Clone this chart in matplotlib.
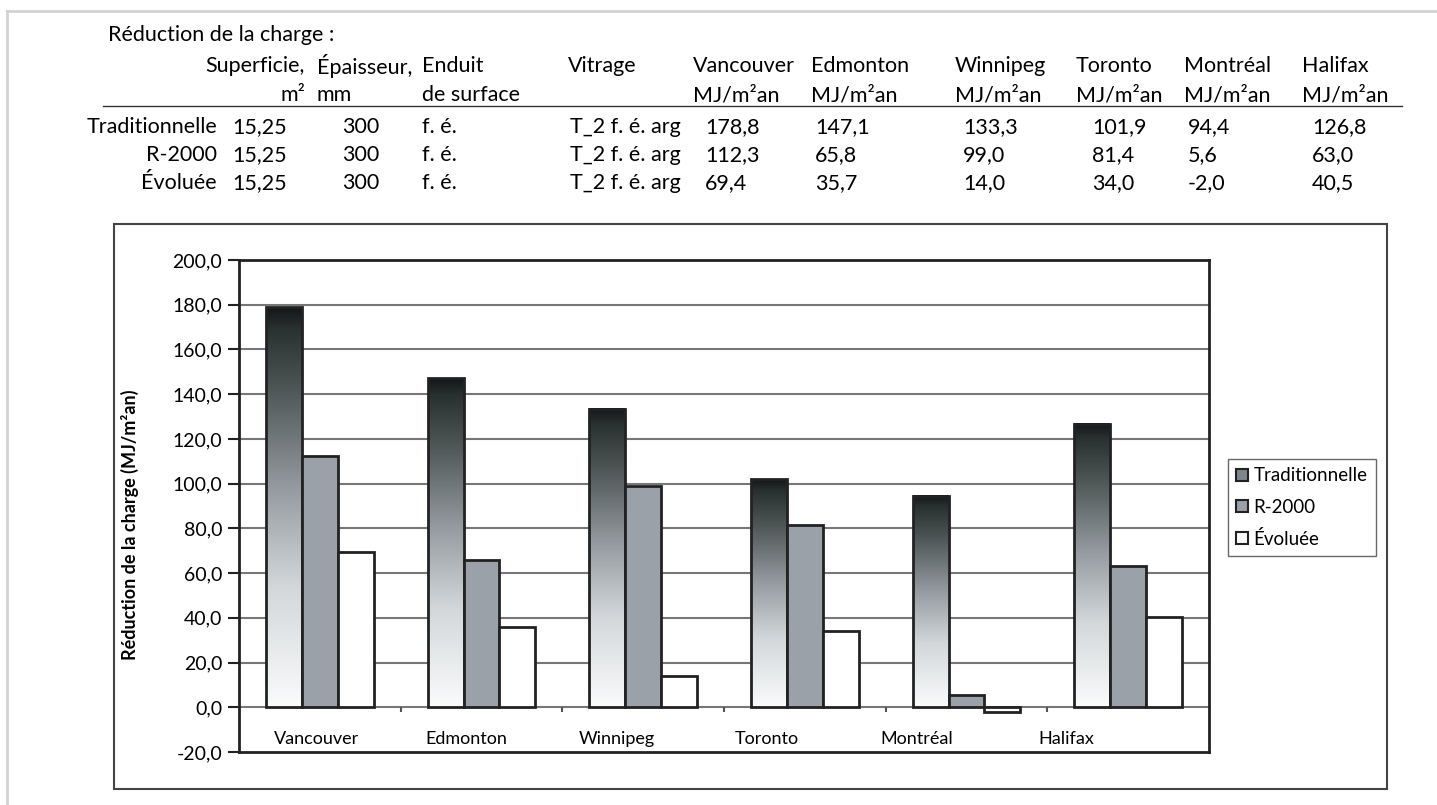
import numpy as np
import matplotlib.pyplot as plt
from matplotlib.patches import Rectangle, Patch
from matplotlib.lines import Line2D
from matplotlib.colors import LinearSegmentedColormap
from matplotlib.ticker import FuncFormatter

plt.rcParams['font.family'] = ['Lato', 'DejaVu Sans']

# data
villes = ['Vancouver', 'Edmonton', 'Winnipeg', 'Toronto', 'Montréal', 'Halifax']
maisons = ['Traditionnelle', 'R-2000', 'Évoluée']
traditionnelle = [178.8, 147.1, 133.3, 101.9, 94.4, 126.8]
r2000 = [112.3, 65.8, 99.0, 81.4, 5.6, 63.0]
evoluee = [69.4, 35.7, 14.0, 34.0, -2.0, 40.5]
superficie = ['15,25', '15,25', '15,25']
epaisseur = ['300', '300', '300']
enduit = ['f. é.', 'f. é.', 'f. é.']
vitrage = ['T_2 f. é. arg', 'T_2 f. é. arg', 'T_2 f. é. arg']

W, H = 1437, 805
fig = plt.figure(figsize=(W / 100, H / 100), dpi=100)


def fx(x):
    return x / W


def fy(y):
    return 1 - y / H


def fmt(v):
    return ('%.1f' % v).replace('.', ',')


# page frame (light grey)
fig.add_artist(Line2D([fx(7), 1], [fy(11), fy(11)], color='#d2d2d2', lw=2))
fig.add_artist(Line2D([fx(7), fx(7)], [fy(11), 0], color='#d2d2d2', lw=2))

# ---- table above the chart ----
fs = 15.5
fig.text(fx(108), fy(35), 'Réduction de la charge :', fontsize=fs, va='center')
y_h1, y_h2, y_ul = 66, 95, 106
rows_y = [127, 155, 183]

fig.text(fx(305), fy(y_h1), 'Superficie,', fontsize=fs, ha='right', va='center')
fig.text(fx(305), fy(y_h2), 'm²', fontsize=fs, ha='right', va='center')
fig.text(fx(317), fy(y_h1), 'Épaisseur,', fontsize=fs, va='center')
fig.text(fx(317), fy(y_h2), 'mm', fontsize=fs, va='center')
fig.text(fx(422), fy(y_h1), 'Enduit', fontsize=fs, va='center')
fig.text(fx(422), fy(y_h2), 'de surface', fontsize=fs, va='center')
fig.text(fx(568), fy(y_h1), 'Vitrage', fontsize=fs, va='center')

col_x = [693, 811, 955, 1076, 1184, 1302]
val_x = [705, 815, 963, 1092, 1188, 1312]
for i, v in enumerate(villes):
    fig.text(fx(col_x[i]), fy(y_h1), v, fontsize=fs, va='center')
    fig.text(fx(col_x[i]), fy(y_h2), 'MJ/m²an', fontsize=fs, va='center')

fig.add_artist(Line2D([fx(103), fx(1402)], [fy(y_ul), fy(y_ul)], color='#333333', lw=1))

series = [traditionnelle, r2000, evoluee]
for j, nom in enumerate(maisons):
    y = fy(rows_y[j])
    fig.text(fx(217), y, nom, fontsize=fs, ha='right', va='center')
    fig.text(fx(232), y, superficie[j], fontsize=fs, va='center')
    fig.text(fx(342), y, epaisseur[j], fontsize=fs, va='center')
    fig.text(fx(422), y, enduit[j], fontsize=fs, va='center')
    fig.text(fx(570), y, vitrage[j], fontsize=fs, va='center')
    for i in range(len(villes)):
        fig.text(fx(val_x[i]), y, fmt(series[j][i]), fontsize=fs, va='center')

# ---- chart frame ----
fig.add_artist(Rectangle((fx(114), fy(789)), fx(1387 - 114), (789 - 224) / H,
                         fill=False, edgecolor='#444444', lw=1.5))

ax = fig.add_axes([fx(239), fy(752), fx(1209 - 239), (752 - 260) / H])
ax.set_facecolor('white')

x = np.arange(len(villes))
bw = 0.222
edge = '#222222'
cmap = LinearSegmentedColormap.from_list('trad', [
    (0.0, '#fafbfb'), (0.3, '#d3d7da'), (0.55, '#949a9f'),
    (0.8, '#4d5555'), (0.95, '#283030'), (1.0, '#141717')])
grad = np.linspace(0, 1, 256).reshape(-1, 1)

for i in range(len(villes)):
    x0 = x[i] - 1.5 * bw
    h = traditionnelle[i]
    ax.imshow(grad, extent=(x0, x0 + bw, 0, h), origin='lower', cmap=cmap,
              aspect='auto', zorder=3, interpolation='bilinear')
    ax.add_patch(Rectangle((x0, 0), bw, h, fill=False, edgecolor=edge, lw=2, zorder=4))

ax.bar(x, r2000, bw, color='#9ba1a8', edgecolor=edge, linewidth=2, zorder=4)
ax.bar(x + bw, evoluee, bw, color='white', edgecolor=edge, linewidth=2, zorder=4)

ax.set_xlim(-0.5, len(villes) - 0.5)
ax.set_ylim(-20, 200)
ax.set_yticks(np.arange(-20, 201, 20))
ax.yaxis.set_major_formatter(FuncFormatter(lambda v, p: fmt(v)))
ax.tick_params(axis='y', labelsize=14, length=8, width=1.5, color='#222222', pad=4)
ax.set_xticks([])
for yv in range(20, 200, 20):
    ax.axhline(yv, color='#777777', lw=1.5, zorder=1)
ax.axhline(0, color='#777777', lw=1.5, zorder=2)
ax.vlines(np.arange(0.5, len(villes) - 0.5), -2.3, 0, color='#555555', lw=1.5, zorder=2)
for s in ax.spines.values():
    s.set_color('#222222')
    s.set_linewidth(2)

lab_x = np.arange(len(villes)) * 0.928 - 0.02
for i, v in enumerate(villes):
    ax.text(lab_x[i], -14, v, fontsize=13, ha='center', va='center')

fig.text(fx(130), fy(525), 'Réduction de la charge (MJ/m²an)', rotation=90,
         fontsize=13, fontweight='bold', ha='center', va='center')

handles = [Patch(facecolor='#80868b', edgecolor=edge, lw=1.5),
           Patch(facecolor='#9ba1a8', edgecolor=edge, lw=1.5),
           Patch(facecolor='white', edgecolor=edge, lw=1.5)]
leg = fig.legend(handles, maisons, loc='upper left', bbox_to_anchor=(fx(1228), fy(459)),
                 borderaxespad=0, fontsize=13.5, frameon=True, fancybox=False,
                 handlelength=0.6, handleheight=0.6, handletextpad=0.3,
                 labelspacing=0.75, borderpad=0.45)
leg.get_frame().set_edgecolor('#444444')
leg.get_frame().set_linewidth(1)

fig.savefig('out.png', dpi=100)
